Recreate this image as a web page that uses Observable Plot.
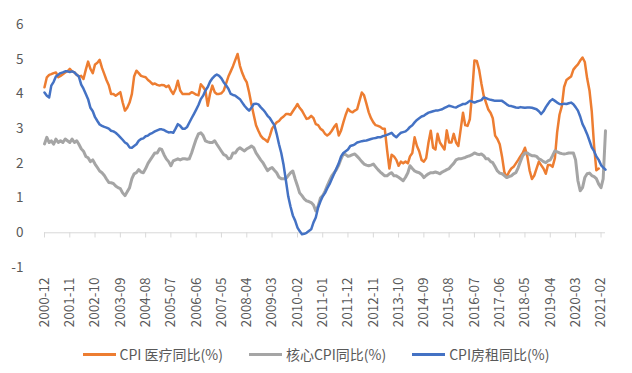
<!DOCTYPE html>
<html>
<head>
<meta charset="utf-8">
<script src="https://cdn.jsdelivr.net/npm/d3@7"></script>
<script src="https://cdn.jsdelivr.net/npm/@observablehq/plot@0.6"></script>
<style>
  html, body { margin: 0; padding: 0; background: #fff; }
  #wrap { width: 632px; height: 373px; overflow: hidden; font-family: "Noto Sans CJK SC", "Noto Sans", sans-serif; }
  #legend { height: 38px; display: flex; justify-content: center; align-items: center; gap: 26px; font-size: 14px; color: #595959; }
  .item { display: flex; align-items: center; gap: 4px; }
  .sw { width: 33px; height: 3px; }
</style>
</head>
<body>
<div id="wrap"></div>
<script>
// Series names and colours
const seriesNames = ["CPI 医疗同比(%)", "核心CPI同比(%)", "CPI房租同比(%)"];
const seriesColors = ["#ED7D31", "#A5A5A5", "#4472C4"];

// First month of the data and tick labels
const firstMonth = "2000-12";
const tickLabels = ["2000-12","2001-11","2002-10","2003-09","2004-08","2005-07","2006-06","2007-05",
  "2008-04","2009-03","2010-02","2011-01","2011-12","2012-11","2013-10","2014-09","2015-08","2016-07",
  "2017-06","2018-05","2019-04","2020-03","2021-02"];
const yTicks = [-1, 0, 1, 2, 3, 4, 5, 6];

// CPI 医疗同比(%) monthly, from 2000-12
const medical = [
  4.19,
  4.48, 4.55, 4.57, 4.6, 4.62, 4.48, 4.52, 4.57, 4.62, 4.65, 4.72, 4.65,
  4.62, 4.55, 4.5, 4.52, 4.43, 4.7, 4.93, 4.72, 4.6, 4.85, 4.9, 4.98,
  4.75, 4.57, 4.4, 4.25, 4.0, 4.0, 3.95, 4.0, 4.05, 3.76, 3.52, 3.6,
  3.75, 4.0, 4.5, 4.67, 4.6, 4.52, 4.5, 4.48, 4.4, 4.35, 4.28, 4.3,
  4.26, 4.24, 4.26, 4.25, 4.2, 4.24, 4.1, 4.0, 4.14, 4.38, 4.1, 4.0,
  4.0, 4.0, 4.0, 4.05, 4.02, 3.98, 3.96, 4.28, 4.2, 4.1, 3.66, 4.0,
  4.24, 4.05, 4.0, 4.0, 4.02, 4.1, 4.3, 4.5, 4.65, 4.8, 4.98, 5.15,
  4.81, 4.6, 4.45, 4.33, 4.05, 3.7, 3.4, 3.1, 2.94, 2.8, 2.72, 2.68,
  2.62, 2.8, 3.0, 3.1, 3.18, 3.22, 3.3, 3.35, 3.42, 3.42, 3.4, 3.5,
  3.6, 3.71, 3.6, 3.52, 3.4, 3.28, 3.3, 3.37, 3.3, 3.13, 3.1, 3.0,
  2.95, 2.85, 2.8, 2.85, 2.94, 3.05, 3.13, 2.8, 2.95, 3.18, 3.4, 3.57,
  3.5, 3.47, 3.52, 3.56, 3.8, 4.04, 3.96, 3.72, 3.47, 3.3, 3.18, 3.1,
  3.08, 3.05, 3.0, 3.0, 2.4, 1.85, 2.25, 2.2, 2.1, 1.93, 2.05, 2.0,
  2.05, 2.0, 2.2, 2.3, 2.75, 2.5, 2.35, 2.1, 2.05, 2.15, 2.6, 2.94,
  2.45, 2.4, 2.85, 2.6, 2.5, 2.4, 2.95, 2.6, 2.6, 2.85, 2.6, 2.5,
  2.98, 3.46, 3.1, 3.08, 3.27, 4.04, 4.96, 4.95, 4.7, 4.3, 3.95, 3.75,
  3.55, 3.45, 3.3, 2.8, 2.7, 2.55, 2.2, 1.75, 1.6, 1.75, 1.85, 1.9,
  2.0, 2.1, 2.2, 2.3, 2.45, 2.2, 1.8, 1.55, 1.65, 1.85, 2.05, 1.95,
  1.85, 1.7, 1.95, 1.95, 1.9, 2.15, 2.9, 3.4, 3.65, 4.2, 4.4, 4.45,
  4.5, 4.7, 4.78, 4.85, 4.96, 5.05, 4.92, 4.45, 4.1, 3.5, 2.5, 1.8,
  1.85
];

// 核心CPI同比(%) monthly, from 2000-12
const core = [
  2.56,
  2.75, 2.6, 2.65, 2.55, 2.7, 2.6, 2.65, 2.6, 2.7, 2.65, 2.6, 2.7,
  2.6, 2.65, 2.55, 2.42, 2.35, 2.2, 2.16, 2.05, 2.1, 1.98, 1.88, 1.78,
  1.73, 1.65, 1.55, 1.45, 1.44, 1.42, 1.35, 1.3, 1.27, 1.15, 1.07, 1.18,
  1.3, 1.56, 1.7, 1.73, 1.82, 1.75, 1.73, 1.85, 2.0, 2.1, 2.2, 2.3,
  2.3, 2.42, 2.4, 2.25, 2.13, 2.05, 1.93, 2.07, 2.1, 2.13, 2.1, 2.13,
  2.13, 2.12, 2.13, 2.3, 2.5, 2.7, 2.85, 2.88, 2.8, 2.65, 2.62, 2.6,
  2.6, 2.65, 2.55, 2.45, 2.35, 2.25, 2.22, 2.13, 2.15, 2.3, 2.3, 2.4,
  2.45, 2.4, 2.36, 2.42, 2.45, 2.5, 2.45, 2.3, 2.2, 2.1, 2.02, 1.9,
  1.79, 1.85, 1.88, 1.8, 1.73, 1.6, 1.56, 1.56, 1.56, 1.65, 1.73, 1.78,
  1.55, 1.35, 1.15, 1.07, 0.98, 0.92, 0.9, 0.87, 0.8, 0.63, 0.77, 1.0,
  1.07, 1.2, 1.35, 1.5, 1.64, 1.73, 1.82, 1.95, 2.13, 2.27, 2.25, 2.2,
  2.22, 2.25, 2.27, 2.2, 2.13, 2.05, 1.98, 1.95, 1.93, 1.95, 1.98, 1.9,
  1.82, 1.75, 1.7, 1.64, 1.64, 1.7, 1.73, 1.64, 1.64, 1.6, 1.55, 1.5,
  1.6, 1.73, 1.93, 1.85, 1.78, 1.75, 1.73, 1.68, 1.59, 1.65, 1.7, 1.73,
  1.73, 1.75, 1.73, 1.7, 1.75, 1.78, 1.82, 1.85, 1.93, 2.0, 2.1, 2.13,
  2.13, 2.15, 2.17, 2.2, 2.22, 2.25, 2.3, 2.27, 2.25, 2.27, 2.22, 2.13,
  2.13, 2.05, 2.02, 1.9, 1.78, 1.72, 1.7, 1.65, 1.59, 1.62, 1.64, 1.7,
  1.73, 1.88, 2.05, 2.22, 2.3, 2.3, 2.25, 2.22, 2.22, 2.2, 2.13, 2.1,
  2.05, 2.02, 2.07, 2.1, 2.22, 2.36, 2.33, 2.3, 2.28, 2.27, 2.28, 2.3,
  2.3, 2.3, 2.1, 1.5, 1.21, 1.3, 1.59, 1.7, 1.72, 1.65, 1.62, 1.56,
  1.4, 1.3, 1.55, 2.94
];

// CPI房租同比(%) monthly, from 2000-12
const rent = [
  4.04,
  3.95, 3.9, 4.24, 4.35, 4.5, 4.55, 4.6, 4.62, 4.65, 4.65, 4.63, 4.65,
  4.62, 4.55, 4.5, 4.27, 4.15, 4.0, 3.85, 3.6, 3.5, 3.33, 3.22, 3.12,
  3.08, 3.05, 3.03, 3.0, 2.94, 2.92, 2.88, 2.82, 2.75, 2.68, 2.6, 2.56,
  2.46, 2.45, 2.5, 2.55, 2.65, 2.7, 2.72, 2.78, 2.8, 2.85, 2.88, 2.92,
  2.95, 2.98, 2.98, 2.96, 2.92, 2.89, 2.9, 2.88, 3.0, 3.13, 3.08, 3.0,
  3.0, 3.05, 3.17, 3.3, 3.42, 3.55, 3.68, 3.85, 3.95, 4.1, 4.2, 4.35,
  4.45, 4.52, 4.56, 4.52, 4.45, 4.33, 4.25, 4.15, 4.0, 3.97, 3.95, 3.9,
  3.85, 3.75, 3.66, 3.58, 3.52, 3.6, 3.71, 3.72, 3.7, 3.62, 3.55, 3.47,
  3.37, 3.3, 3.2, 3.1, 2.85, 2.55, 2.3, 1.95, 1.5, 1.05, 0.75, 0.5,
  0.35, 0.15, 0.05, -0.04, -0.03, 0.0, 0.05, 0.1, 0.3, 0.44, 0.73, 0.9,
  1.05, 1.15, 1.28, 1.4, 1.55, 1.7, 1.85, 2.0, 2.2, 2.3, 2.35, 2.4,
  2.5, 2.52, 2.55, 2.6, 2.62, 2.64, 2.65, 2.66, 2.68, 2.7, 2.72, 2.73,
  2.75, 2.75, 2.78, 2.8, 2.82, 2.85, 2.88, 2.8, 2.75, 2.82, 2.88, 2.9,
  2.92, 2.98, 3.05, 3.1, 3.18, 3.25, 3.3, 3.35, 3.37, 3.42, 3.46, 3.48,
  3.5, 3.52, 3.52, 3.54, 3.56, 3.6, 3.63, 3.66, 3.64, 3.62, 3.61, 3.65,
  3.68, 3.71, 3.71, 3.75, 3.8, 3.78, 3.75, 3.78, 3.8, 3.82, 3.9, 3.88,
  3.85, 3.83, 3.82, 3.8, 3.8, 3.8, 3.8, 3.75, 3.7, 3.66, 3.65, 3.63,
  3.61, 3.6, 3.62, 3.61, 3.6, 3.61, 3.61, 3.6, 3.58, 3.56, 3.5, 3.42,
  3.5, 3.62, 3.71, 3.8, 3.85, 3.8, 3.75, 3.71, 3.7, 3.72, 3.71, 3.73,
  3.75, 3.7, 3.62, 3.52, 3.35, 3.13, 3.0, 2.84, 2.65, 2.46, 2.35, 2.2,
  2.1, 1.95, 1.88, 1.82
];

const parseMonth = d3.utcParse("%Y-%m");
const start = parseMonth(firstMonth);
const monthOf = (i) => d3.utcMonth.offset(start, i);
const toRows = (arr, name) => arr.map((v, i) => ({date: monthOf(i), v, name}));

const allSeries = [medical, core, rent];
const rows = allSeries.map((arr, k) => toRows(arr, seriesNames[k]));
const maxLen = d3.max(allSeries, a => a.length);
const tickDates = tickLabels.map(parseMonth);

const chart = Plot.plot({
  width: 632,
  height: 335,
  marginLeft: 44,
  marginRight: 27,
  marginTop: 24,
  marginBottom: 68,
  style: {fontFamily: "'Noto Sans CJK SC', 'Noto Sans', sans-serif", fontSize: "13.5px", color: "#595959", background: "white"},
  x: {type: "utc", domain: [start, monthOf(maxLen - 1)]},
  y: {domain: [-1, 6]},
  marks: [
    Plot.axisY({ticks: yTicks, tickFormat: d => String(d), tickSize: 0, tickPadding: 21, label: null}),
    Plot.axisX({ticks: tickDates, tickFormat: "%Y-%m", tickRotate: -90, tickSize: 0, tickPadding: 10, label: null}),
    Plot.ruleY([0], {stroke: "#d9d9d9", strokeWidth: 1}),
    Plot.ruleX(tickDates, {x: d => d, y1: 0, y2: -0.15, stroke: "#d9d9d9"}),
    ...rows.map((r, k) => Plot.line(r, {x: "date", y: "v", stroke: seriesColors[k], strokeWidth: k === 1 ? 3 : 2.5, strokeLinejoin: "round"}))
  ]
});

const wrap = document.getElementById("wrap");
wrap.appendChild(chart);

const legend = document.createElement("div");
legend.id = "legend";
seriesNames.forEach((n, k) => {
  const it = document.createElement("div");
  it.className = "item";
  const sw = document.createElement("span");
  sw.className = "sw";
  sw.style.background = seriesColors[k];
  const tx = document.createElement("span");
  tx.textContent = n;
  it.appendChild(sw);
  it.appendChild(tx);
  legend.appendChild(it);
});
wrap.appendChild(legend);
</script>
</body>
</html>
